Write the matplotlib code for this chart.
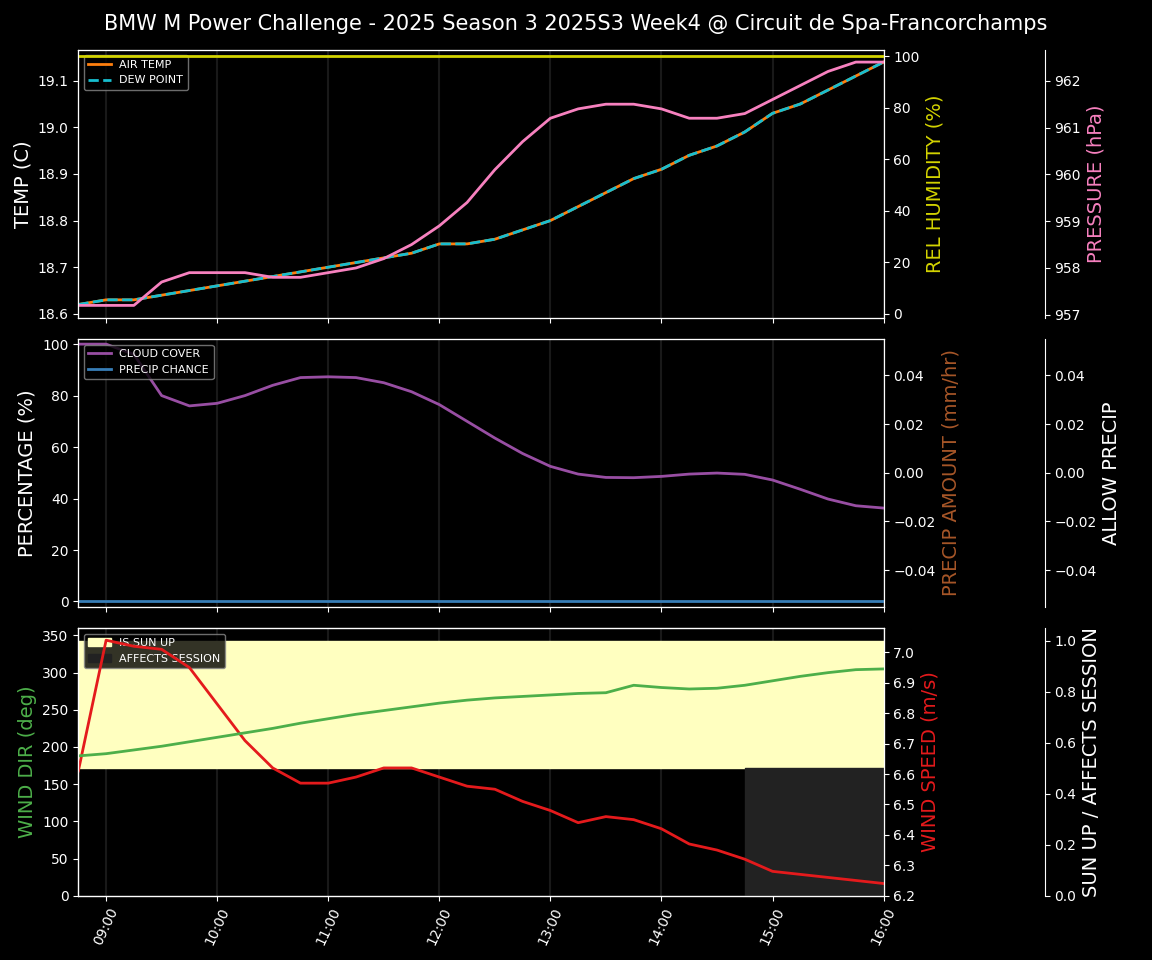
import matplotlib
matplotlib.use("Agg")
import matplotlib.pyplot as plt
import matplotlib.dates as mdates
import numpy as np
import pandas as pd

times = pd.date_range("2025-01-01 08:45", "2025-01-01 16:00", freq="15min")
air_temp = [18.62,18.63,18.63,18.64,18.65,18.66,18.67,18.68,18.69,18.70,18.71,18.72,18.73,18.75,18.75,
            18.76,18.78,18.80,18.83,18.86,18.89,18.91,18.94,18.96,18.99,19.03,19.05,19.08,19.11,19.14]
dew_point = air_temp
rel_humidity = [100]*30
pressure = [957.2,957.2,957.2,957.7,957.9,957.9,957.9,957.8,957.8,957.9,958.0,958.2,958.5,958.9,959.4,
            960.1,960.7,961.2,961.4,961.5,961.5,961.4,961.2,961.2,961.3,961.6,961.9,962.2,962.4,962.4]
cloud_cover = [100,100,96,80,76,77,80,84,87,87.3,87,85,81.5,76.5,70,63.5,57.5,52.5,49.5,48.2,48.1,
               48.6,49.5,49.9,49.4,47.2,43.6,39.8,37.2,36.3]
precip_chance = [0]*30
precip_amount = [0]*30
allow_precip = [0]*30
wind_dir = [188,191,196,201,207,213,219,225,232,238,244,249,254,259,263,266,268,270,272,273,283,
            280,278,279,283,289,295,300,304,305]
wind_speed = [6.61,7.04,7.02,7.01,6.95,6.83,6.71,6.62,6.57,6.57,6.59,6.62,6.62,6.59,6.56,6.55,6.51,
              6.48,6.44,6.46,6.45,6.42,6.37,6.35,6.32,6.28,6.27,6.26,6.25,6.24]
sun_up = [1]*30
affects_session = [0]*24 + [1]*6

plt.style.use("dark_background")
fig, axes = plt.subplots(3, 1, figsize=(11.52, 9.6), dpi=100, sharex=True)
fig.subplots_adjust(left=0.068, right=0.767, top=0.948, bottom=0.067, hspace=0.08)
fig.suptitle("BMW M Power Challenge - 2025 Season 3 2025S3 Week4 @ Circuit de Spa-Francorchamps",
             fontsize=15, y=0.985)

hours = pd.date_range("2025-01-01 09:00", "2025-01-01 16:00", freq="1h")
for ax in axes:
    for h in hours:
        ax.axvline(h, color="#333333", lw=1.5, alpha=0.5, zorder=0)
    ax.set_xlim(times[0], times[-1])

# Top
ax = axes[0]
ax.plot(times, air_temp, color="#ff7f0e", lw=2, label="AIR TEMP")
ax.plot(times, dew_point, color="#17becf", lw=2, ls="--", label="DEW POINT")
ax.set_ylim(18.592, 19.166)
ax.set_ylabel("TEMP (C)", fontsize=14)
ax.legend(loc="upper left", fontsize=8, facecolor="black", edgecolor="#888888")
a2 = ax.twinx()
a2.plot(times, rel_humidity, color="#d4d400", lw=2)
a2.set_ylim(-1.5, 102.5)
a2.set_ylabel("REL HUMIDITY (%)", color="#d4d400", fontsize=14)
a3 = ax.twinx()
a3.spines["right"].set_position(("axes", 1.2))
a3.plot(times, pressure, color="#f781bf", lw=2)
a3.set_ylim(956.94, 962.66)
a3.set_ylabel("PRESSURE (hPa)", color="#f781bf", fontsize=14)

# Middle
ax = axes[1]
ax.plot(times, cloud_cover, color="#984ea3", lw=2, label="CLOUD COVER")
ax.plot(times, precip_chance, color="#377eb8", lw=2, label="PRECIP CHANCE")
ax.set_ylim(-2, 102)
ax.set_ylabel("PERCENTAGE (%)", fontsize=14)
ax.legend(loc="upper left", fontsize=8, facecolor="black", edgecolor="#888888")
b2 = ax.twinx()
b2.plot(times, precip_amount, color="#a65628", lw=0)
b2.set_ylim(-0.055, 0.055)
b2.set_ylabel("PRECIP AMOUNT (mm/hr)", color="#a65628", fontsize=14)
b3 = ax.twinx()
b3.spines["right"].set_position(("axes", 1.2))
b3.plot(times, allow_precip, lw=0)
b3.set_ylim(-0.055, 0.055)
b3.set_ylabel("ALLOW PRECIP", fontsize=14)

# Bottom
ax = axes[2]
c3 = ax.twinx()
c3.spines["right"].set_position(("axes", 1.2))
sun = np.array(sun_up, float)
aff = np.array(affects_session, float)
c3.fill_between(times, 0.5, 0.5 + 0.5*sun, color="#ffffc0", step="post", label="IS SUN UP", zorder=0)
c3.fill_between(times, 0, 0.5*aff, where=aff > 0, color="#222222", label="AFFECTS SESSION", zorder=0)
c3.set_ylim(0, 1.05)
c3.set_ylabel("SUN UP / AFFECTS SESSION", fontsize=14)
c3.legend(loc="upper left", fontsize=8, facecolor="black", edgecolor="#888888")
c2 = ax.twinx()
c2.plot(times, wind_speed, color="#e41a1c", lw=2)
c2.set_ylim(6.2, 7.08)
c2.set_ylabel("WIND SPEED (m/s)", color="#e41a1c", fontsize=14)
cw = ax.twinx()
cw.plot(times, wind_dir, color="#4daf4a", lw=2)
cw.set_ylim(0, 360)
cw.set_yticks([])
ax.set_ylim(0, 360)
ax.set_ylabel("WIND DIR (deg)", color="#4daf4a", fontsize=14)
ax.xaxis.set_major_locator(mdates.HourLocator())
ax.xaxis.set_major_formatter(mdates.DateFormatter("%H:%M"))
plt.setp(ax.get_xticklabels(), rotation=65)
ax.set_xlim(times[0], times[-1])

fig.savefig("out.png")
